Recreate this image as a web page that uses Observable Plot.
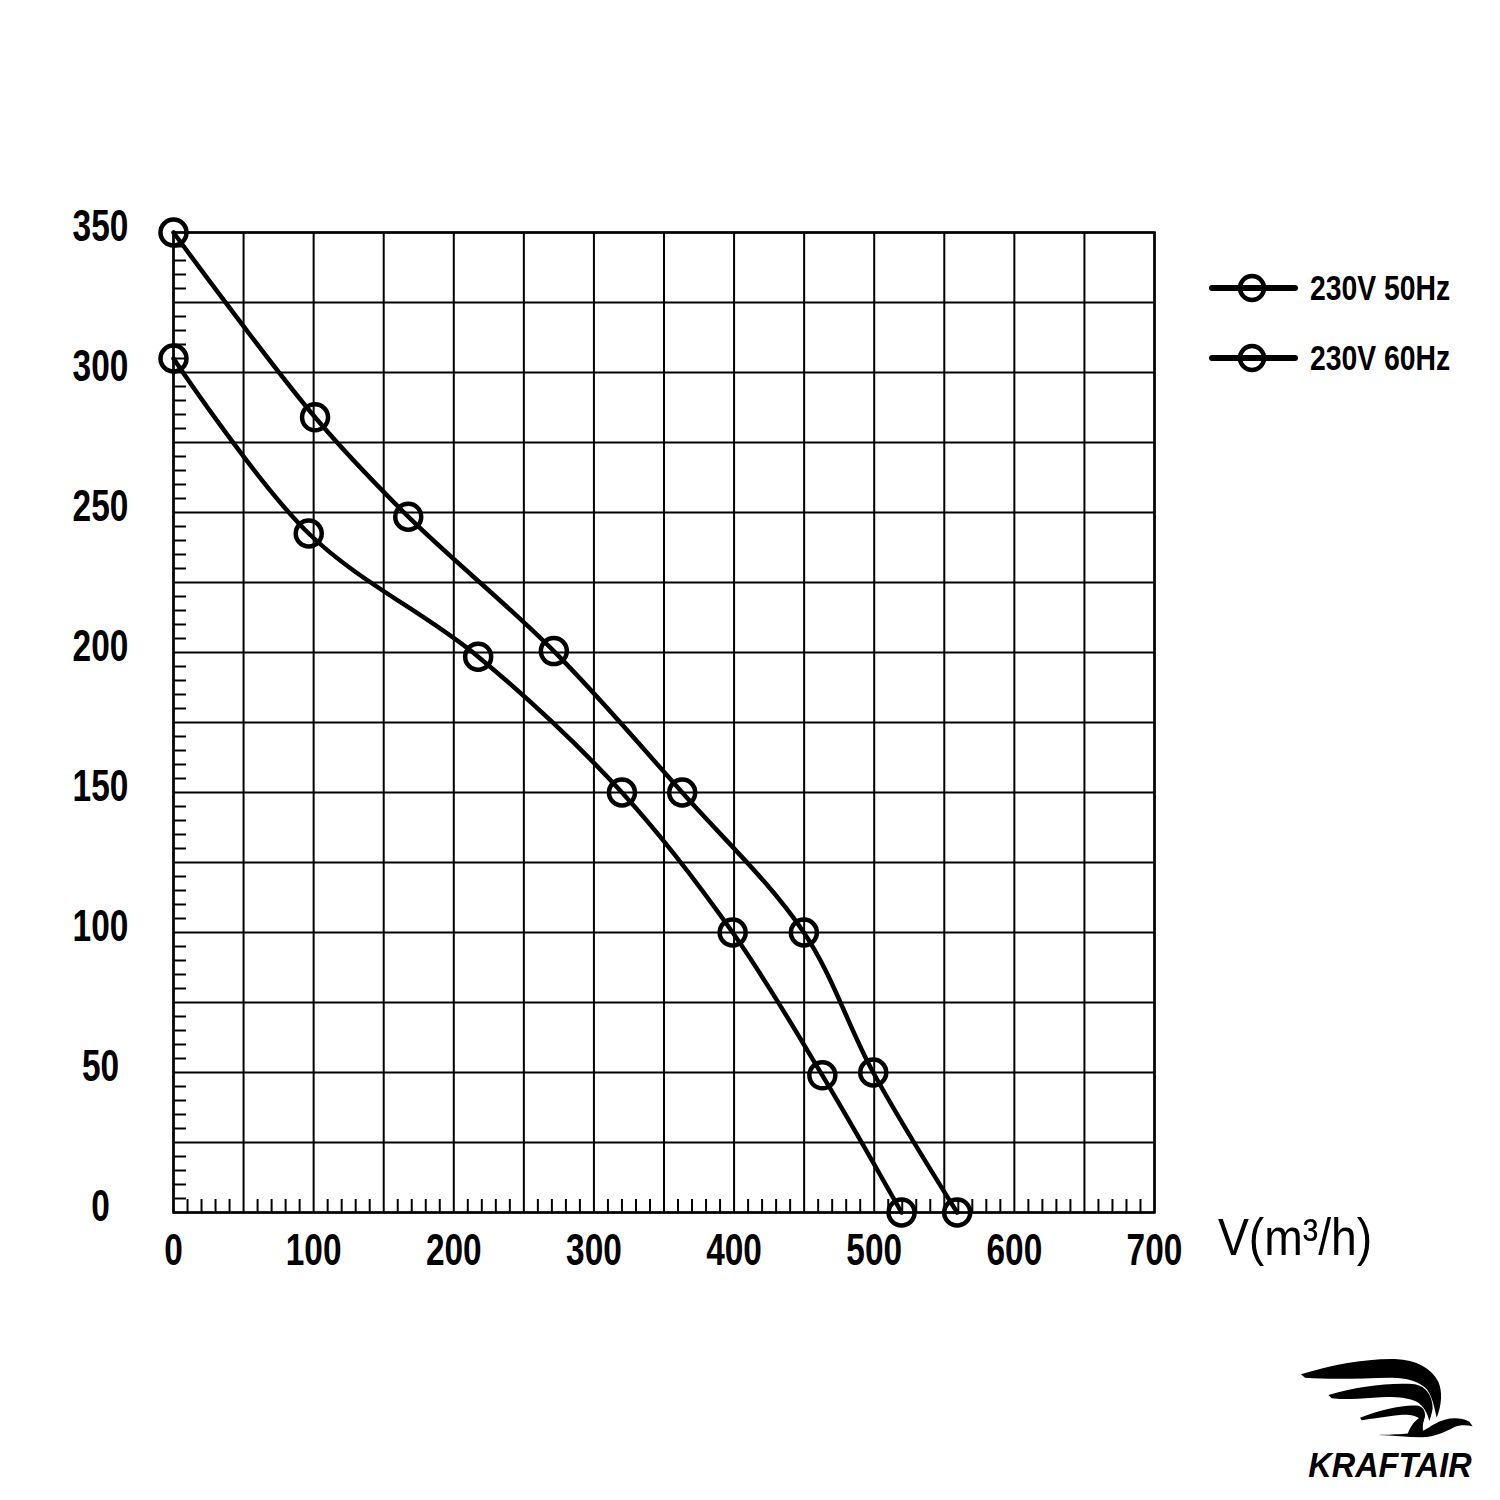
<!DOCTYPE html>
<html><head><meta charset="utf-8">
<script src="https://cdn.jsdelivr.net/npm/d3@7"></script>
<script src="https://cdn.jsdelivr.net/npm/@observablehq/plot@0.6"></script>
<style>
body{margin:0;background:#fff;}
#wrap{position:relative;width:1500px;height:1500px;overflow:hidden;background:#fff;}
#wrap > svg{position:absolute;left:0;top:0;}
#wrap > svg.ov{position:absolute;overflow:visible;}
</style></head><body><div id="wrap"></div>
<script>
const seriesNames = ["230V 50Hz", "230V 60Hz"];
const flow50 = [0, 96.5, 217.4, 320, 399, 463, 519.5];
const pressure50 = [305, 242.5, 198.5, 150, 100, 49, 0];
const flow60 = [0, 101, 167.5, 271.4, 363, 449.8, 499.3, 559.2];
const pressure60 = [350, 284, 248.5, 200.5, 150, 100, 50, 0];
const xTicks = [0, 100, 200, 300, 400, 500, 600, 700];
const yTicks = [0, 50, 100, 150, 200, 250, 300, 350];
const xGrid = [0, 50, 100, 150, 200, 250, 300, 350, 400, 450, 500, 550, 600, 650, 700];
const yGrid = [0, 25, 50, 75, 100, 125, 150, 175, 200, 225, 250, 275, 300, 325, 350];
const xMinor = d3.range(0, 700, 10).filter(d => d % 50 !== 0);
const yMinor = d3.range(0, 350, 5).filter(d => d % 25 !== 0);
const xLabel = "V(m³/h)";
const brand = "KRAFTAIR";

const data = [
  ...flow50.map((x, i) => ({series: seriesNames[0], x, y: pressure50[i]})),
  ...flow60.map((x, i) => ({series: seriesNames[1], x, y: pressure60[i]}))
];

const FONT = '"Liberation Sans", Arial, sans-serif';

const chart = Plot.plot({
  width: 1500, height: 1500,
  marginLeft: 173, marginRight: 346, marginTop: 232, marginBottom: 288,
  x: {domain: [0, 700], axis: null},
  y: {domain: [0, 350], axis: null},
  marks: [
    Plot.gridX(xGrid, {stroke: "#000", strokeOpacity: 1, strokeWidth: 2}),
    Plot.gridY(yGrid, {stroke: "#000", strokeOpacity: 1, strokeWidth: 2}),
    Plot.ruleX(xMinor, {x: d => d, y1: 0, y2: 0, insetTop: -13, stroke: "#000", strokeWidth: 2}),
    Plot.ruleY(yMinor, {y: d => d, x1: 0, x2: 0, insetRight: -13, stroke: "#000", strokeWidth: 2}),
    Plot.frame({stroke: "#000", strokeWidth: 2.5}),
    Plot.line(data, {x: "x", y: "y", z: "series", curve: "catmull-rom", stroke: "#000", strokeWidth: 4.5}),
    Plot.dot(data, {x: "x", y: "y", r: 13, stroke: "#000", strokeWidth: 4.5, fill: "none"}),
    Plot.text(yTicks, {x: 0, y: d => d, text: d => String(d), dx: -73, dy: -6, textAnchor: "middle",
      fontSize: 44, fontWeight: "bold", fontFamily: FONT, fill: "#000"}),
    Plot.text(xTicks, {x: d => d, y: 0, text: d => String(d), dy: 38, textAnchor: "middle",
      fontSize: 44, fontWeight: "bold", fontFamily: FONT, fill: "#000"})
  ]
});
const wrap = document.getElementById("wrap");
wrap.appendChild(chart);

// condense the tick labels horizontally (narrow face in the original)
chart.querySelectorAll("text").forEach(el => {
  const tr = el.getAttribute("transform");
  if (tr) el.setAttribute("transform", tr + " scale(0.76,1)");
  else {
    const x = +(el.getAttribute("x") || 0);
    el.setAttribute("transform", `translate(${x},0) scale(0.76,1) translate(${-x},0)`);
  }
});

const ns = "http://www.w3.org/2000/svg";
function overlay(left, top, w, h, vb) {
  const s = document.createElementNS(ns, "svg");
  s.setAttribute("class", "ov");
  s.setAttribute("width", w); s.setAttribute("height", h);
  if (vb) s.setAttribute("viewBox", vb);
  s.style.left = left + "px"; s.style.top = top + "px";
  wrap.appendChild(s);
  return s;
}

// axis title
const ttl = overlay(1210, 1195, 200, 80);
ttl.innerHTML = `<text transform="translate(8,60) scale(0.89,1)" font-family='${FONT}' font-size="52" fill="#000">${xLabel}</text>`;

// legend
const leg = overlay(1200, 250, 300, 140);
seriesNames.forEach((name, i) => {
  const cy = 38 + i * 70;
  leg.innerHTML += `<line x1="12" x2="95" y1="${cy}" y2="${cy}" stroke="#000" stroke-width="6" stroke-linecap="round"/>
  <circle cx="52" cy="${cy}" r="12" fill="none" stroke="#000" stroke-width="4.5"/>
  <text transform="translate(110,${cy + 12}) scale(0.81,1)" font-family='${FONT}' font-weight="bold" font-size="35" fill="#000">${name}</text>`;
});

// logo
const logo = overlay(1290, 1355, 190, 135, "0 0 570 405");
logo.innerHTML = `
<path d="M33,58 C120,30 230,10 315,12 C380,15 425,40 445,80 C458,110 455,150 440,188 C432,150 425,122 410,102 C385,77 345,67 300,68 C220,70 120,74 45,68 Z" fill="#000"/>
<path d="M115,120 C200,95 300,82 375,88 C410,95 428,125 428,160 C426,175 422,187 418,198 C412,172 400,152 380,140 C350,126 300,124 250,128 C200,132 150,134 125,130 Z" fill="#000"/>
<path d="M210,188 C270,165 340,148 385,152 C405,158 410,178 400,200 C385,183 360,178 330,180 C290,184 240,192 215,196 Z" fill="#000"/>
<path d="M265,240 C310,242 350,246 395,247 C435,246 468,230 492,217 C510,209 530,210 548,214 L538,200 C515,188 488,188 464,194 C440,200 420,216 402,226 C380,236 320,239 265,240 Z" fill="#000"/>
<path d="M352,240 C362,210 380,190 406,178 C398,202 396,224 402,246 Z" fill="#000"/>
<text x="55" y="366" font-family='${FONT}' font-style="italic" font-weight="bold" font-size="104" fill="#000" textLength="490" lengthAdjust="spacingAndGlyphs">${brand}</text>`;
</script></body></html>
